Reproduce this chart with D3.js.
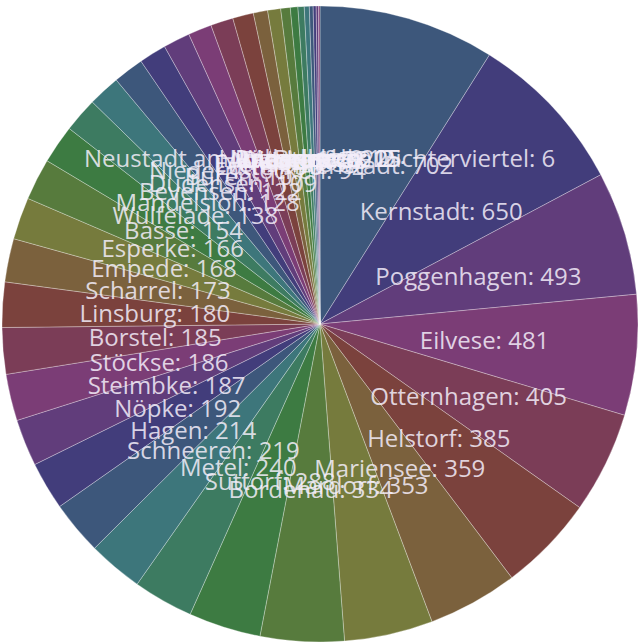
<!DOCTYPE html>
<html>
<head>
<meta charset="utf-8">
<script src="https://cdn.jsdelivr.net/npm/d3@7"></script>
<style>
    body { margin: 0; background: #ffffff; }
    #pie { width: 641px; height: 644px; }
</style>
</head>
<body>
<div id="pie"></div>
<script>
let names = ['Innenstadt', 'Kernstadt', 'Poggenhagen', 'Eilvese', 'Otternhagen', 'Helstorf',
    'Mariensee', 'Mardorf', 'Bordenau', 'Suttorf', 'Metel', 'Schneeren', 'Hagen', 'Nöpke',
    'Steimbke', 'Stöckse', 'Borstel', 'Linsburg', 'Scharrel', 'Empede', 'Esperke', 'Basse',
    'Wulfelade', 'Mandelsloh', 'Bevensen', 'Dudensen', 'Büren', 'Niedernstöcken', 'Lutter',
    'Evensen', 'Welze', 'Amedorf', 'Averhoy', 'Dinstorf', 'Himmelreich', 'Laderholz',
    'Luttmersen', 'Warmeloh', 'Brase', 'Neustadt am Rübenberge Dichterviertel'];
let counts = [702, 650, 493, 481, 405, 385, 359, 353, 334, 288, 240, 219, 214, 192,
    187, 186, 185, 180, 173, 168, 166, 154,
    138, 128, 122, 109, 107, 94, 90,
    83, 57, 52, 38, 30, 25, 20,
    15, 12, 9, 6];

function draw_pie() {
    let data = names.map((n, i) => ({name: n, value: counts[i], idx: i}));

    let width = 641, height = 644;
    let radius = 318;
    let cx = 320, cy = 324;

    let svg = d3.select('#pie').append('svg')
        .attr('width', width)
        .attr('height', height);

    let g = svg.append('g')
        .attr('transform', 'translate(' + cx + ',' + cy + ')');

    // hue walks around the wheel, one step per slice
    let colour = i => d3.hsl((215 + 30 * i) % 360, 0.34, 0.36).toString();

    let pie = d3.pie().value(d => d.value);
    let arc = d3.arc().innerRadius(0).outerRadius(radius);
    let labelArc = d3.arc().innerRadius(radius * 0.52).outerRadius(radius * 0.52);

    let arcs = pie(data);

    g.append('g')
        .attr('class', 'slices')
        .selectAll('path')
        .data(arcs)
        .enter()
        .append('path')
        .attr('d', arc)
        .attr('fill', d => colour(d.data.idx))
        .attr('stroke', 'rgba(255,255,255,0.3)')
        .attr('stroke-width', 1);

    g.append('g')
        .attr('class', 'labels')
        .selectAll('text')
        .data(arcs)
        .enter()
        .append('text')
        .attr('transform', d => 'translate(' + labelArc.centroid(d) + ')')
        .attr('dy', '0.35em')
        .attr('text-anchor', 'middle')
        .style('font-family', '"Open Sans", sans-serif')
        .style('font-size', '24px')
        .style('fill', '#f4eefa')
        .style('fill-opacity', 0.85)
        .text(d => d.data.name + ': ' + d.data.value);
}

draw_pie();
</script>
</body>
</html>
